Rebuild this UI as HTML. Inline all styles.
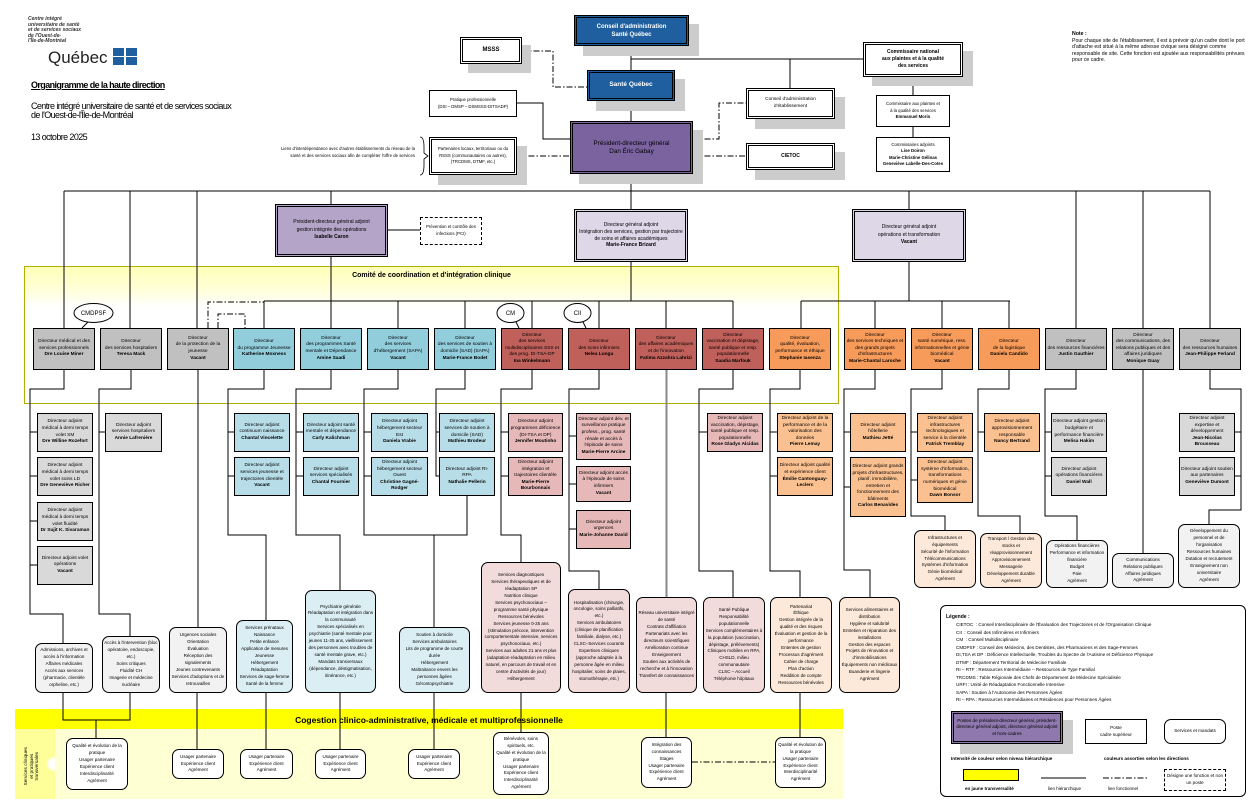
<!DOCTYPE html>
<html><head><meta charset="utf-8"><style>
*{margin:0;padding:0;box-sizing:border-box}
body{width:1254px;height:811px;background:#fff;position:relative;overflow:hidden;font-family:"Liberation Sans",sans-serif;color:#000}
.a{position:absolute}
.b{position:absolute;border:1px solid #000;display:flex;align-items:center;justify-content:center;text-align:center;font-size:4.8px;line-height:6.6px;z-index:3;padding:1px}
.r{border-radius:7px;border-width:1.2px}
.s{font-size:4.5px;line-height:6.9px}
.g1{background:#c0c0c0}.g2{background:#d9d9d9}.g3{background:#f2f2f2}
.u1{background:#92cddc}.u2{background:#b7dde8}.u3{background:#dbeef4}
.p1{background:#c0605a}.p2{background:#e6b9b8}.p3{background:#f2dcdb}
.o1{background:#f79b5b}.o2{background:#fac090}.o3{background:#fde9d9}
.dbl{border:3px double #000}
.sh{position:absolute;background:#ccc;z-index:2}
b{font-weight:bold}
svg{position:absolute;left:0;top:0;z-index:2}
</style></head><body>

<!-- header -->
<div class="a" style="left:28px;top:17px;font:italic bold 5px/5.5px 'Liberation Sans';color:#333">Centre intégré<br>universitaire de santé<br>et de services sociaux<br>de l'Ouest-de-<br>l'Île-de-Montréal</div>
<div class="a" style="left:48px;top:49px;font-size:17px;line-height:18px;color:#222">Québec</div>
<div class="a" style="left:113px;top:48px;width:24px;height:17px;display:grid;grid-template-columns:11px 11px;gap:1px 2px">
<div style="background:#1f5fa0"></div><div style="background:#1f5fa0"></div><div style="background:#1f5fa0"></div><div style="background:#1f5fa0"></div></div>
<div class="a" style="left:31px;top:80px;font-size:9px;font-weight:bold;text-decoration:underline;letter-spacing:-0.6px">Organigramme de la haute direction</div>
<div class="a" style="left:31px;top:102px;font-size:9px;line-height:9px;letter-spacing:-0.6px">Centre intégré universitaire de santé et de services sociaux<br>de l'Ouest-de-l'Île-de-Montréal</div>
<div class="a" style="left:31px;top:132px;font-size:9px;letter-spacing:-0.6px">13 octobre 2025</div>
<div class="a" style="left:280px;top:145px;width:135px;text-align:right;font-size:4.3px;line-height:7px">Liens d'interdépendance avec d'autres établissements du réseau de la santé et des services sociaux afin de compléter l'offre de services</div>
<div class="a" style="left:1072px;top:31px;width:175px;font-size:5.2px;line-height:6.6px"><b>Note :</b><br>Pour chaque site de l'établissement, il est à prévoir qu'un cadre dont le port d'attache est situé à la même adresse civique sera désigné comme responsable de site. Cette fonction est ajoutée aux responsabilités prévues pour ce cadre.</div>

<!-- bands -->
<div class="a" style="left:24px;top:266px;width:815px;height:138px;border:1px solid #b0b000;background:linear-gradient(#ffffb8 0,#ffffd8 22px,#fff 40px,#fff 100%);z-index:0"></div>
<div class="a" style="left:24px;top:272px;width:815px;text-align:center;font-size:7px;font-weight:bold;z-index:1">Comité de coordination et d'intégration clinique</div>
<div class="a" style="left:15px;top:709px;width:828px;height:20px;background:#ffff00;z-index:0"></div>
<div class="a" style="left:15px;top:729px;width:828px;height:70px;background:#ffffd4;z-index:0"></div>
<div class="a" style="left:15px;top:729px;width:40px;height:70px;background:radial-gradient(ellipse at 100% 50%,#fff 0,#fff 6px,#ffff9a 9px);z-index:0"></div>
<div class="a" style="left:15px;top:715px;width:828px;text-align:center;font-size:8.5px;font-weight:bold;z-index:1;padding-left:0">Cogestion clinico-administrative, médicale et multiprofessionnelle</div>
<div class="a" style="left:-8px;top:758px;width:80px;text-align:center;font-size:4.8px;line-height:5.5px;transform:rotate(-90deg);z-index:1">Services cliniques<br>et pratiques<br>transversales</div>

<svg width="1254" height="811" fill="none" stroke="#000" stroke-width="1">
<g>
<path d="M631 46V121M631 59H863M790 59V88M913 77V95M913 127V137M631 174V209"/>
<path d="M517 103H543V139H570"/>
<path d="M388 230H420"/>
<path d="M64 191H1210M64 191V328M130 191V328M197 191V328M331 191V204M909 191V209M1076 191V328M1143 191V328M1210 191V328"/>
<path d="M331 257V301M631 262V301M264 301H733M264 301V328M331 301V328M398 301V328M465 301V328M532 301V328M599 301V328M666 301V328M733 301V328"/>
<path d="M909 262V301M801 301H1010M801 301V328M875 301V328M942 301V328M1009 301V328"/>
<path d="M64 370V389H30V614H63V643M30 432H37M30 476H37M30 521H37M30 565H37"/>
<path d="M131 370V389H99V614H130V636M99 432H105"/>
<path d="M198 370V627"/>
<path d="M264 370V389H228V535H266V620M228 432H234M228 476H234"/>
<path d="M331 370V389H296V535H340V590M296 432H303M296 476H303"/>
<path d="M398 370V389H364V535H467V496M364 432H371M364 476H371M434 535V627"/>
<path d="M465 370V389H436V476H439M436 432H439"/>
<path d="M532 370V389H501V535H521V562M501 432H508M501 476H508"/>
<path d="M599 370V389H569V571H599V589M569 436H576M569 484H576M569 529H576"/>
<path d="M733 370V389H699V571H733V597M699 432H707"/>
<path d="M800 370V389H770V571H800V597M770 432H777M770 476H777"/>
<path d="M875 370V389H844V570H870V597M844 432H850M844 487H850"/>
<path d="M942 370V389H911V516H945V530M911 432H917M911 480H917"/>
<path d="M1009 370V389H978V516H1020V533M978 432H984"/>
<path d="M1076 370V389H1045V516H1077V540M1045 432H1051M1045 476H1051"/>
<path d="M1143 370V553"/>
<path d="M1210 370V389H1241V510H1209V524M1235 432H1241M1235 476H1241"/>
<path d="M666 370V597M667 370V597" stroke="#888"/>
<path d="M63 693V720H130V693M96 720V738M197 693V749M266 693V749M340 693V749M434 693V749M521 693V732M666 693V737M800 693V737"/>
<g stroke-dasharray="6,2,1.5,2">
<path d="M522 51H553V87H587"/>
<path d="M517 156H570"/>
<path d="M693 139H719V103H746"/>
<path d="M693 156H746"/>
<path d="M208 328V302H264"/>
<path d="M218 328V314H245V328"/>
<path d="M692 762H775"/>
<path d="M1103 778H1147"/>
</g>
<path d="M1041 778H1086"/>
<path d="M420 137Q424 137 424 147V153L428 156L424 159V165Q424 175 420 175" stroke-width="0.8"/>
<ellipse cx="93.5" cy="313" rx="19.5" ry="9.5" fill="#fff"/><path d="M88 322L82 328"/>
<ellipse cx="510.5" cy="313" rx="13.5" ry="9.5" fill="#fff"/><path d="M516 322L519 328"/>
<ellipse cx="577.5" cy="313" rx="13.5" ry="9.5" fill="#fff"/><path d="M583 322L586 328"/>
</g>
<text x="93.5" y="315" font-size="6" font-family="Liberation Sans" fill="#000" stroke="none" text-anchor="middle">CMDPSF</text>
<text x="510.5" y="315" font-size="6" font-family="Liberation Sans" fill="#000" stroke="none" text-anchor="middle">CM</text>
<text x="577.5" y="315" font-size="6" font-family="Liberation Sans" fill="#000" stroke="none" text-anchor="middle">CII</text>
</svg>

<!-- top boxes -->
<div class="sh" style="left:583px;top:24px;width:116px;height:32px"></div>
<div class="b dbl" style="left:574px;top:15px;width:115px;height:31px;background:#1f5fa0;color:#fff;font-size:6px;line-height:8px;font-weight:bold"><span>Conseil d'administration<br>Santé Québec</span></div>
<div class="sh" style="left:468px;top:45px;width:63px;height:28px"></div>
<div class="b dbl" style="left:460px;top:37px;width:62px;height:27px;background:#fff;font-size:6px;font-weight:bold">MSSS</div>
<div class="sh" style="left:596px;top:79px;width:89px;height:32px"></div>
<div class="b dbl" style="left:587px;top:70px;width:88px;height:31px;background:#1f5fa0;color:#fff;font-size:6.5px;font-weight:bold">Santé Québec</div>
<div class="b" style="left:429px;top:90px;width:88px;height:27px;background:#fff;font-size:4.3px"><span>Pratique professionnelle<br>(DSI – DMSP – DSMSSS-DITSADP)</span></div>
<div class="sh" style="left:438px;top:146px;width:89px;height:39px"></div>
<div class="b dbl" style="left:429px;top:137px;width:88px;height:38px;background:#fff;font-size:4.3px">Partenaires locaux, territoriaux ou du RSSS (communautaires ou autres), (TRCDMS, DTMF, etc.)</div>
<div class="sh" style="left:579px;top:130px;width:124px;height:54px"></div>
<div class="b dbl" style="left:570px;top:121px;width:123px;height:53px;background:#7b63a0;font-size:6.3px;line-height:8px"><span>Président-directeur général<br>Dan Éric Gabay</span></div>
<div class="sh" style="left:755px;top:97px;width:90px;height:32px"></div>
<div class="b dbl" style="left:746px;top:88px;width:89px;height:31px;background:#fff;font-size:4.8px"><span>Conseil d'administration<br>d'établissement</span></div>
<div class="sh" style="left:755px;top:152px;width:90px;height:28px"></div>
<div class="b dbl" style="left:746px;top:143px;width:89px;height:27px;background:#fff;font-size:5px;font-weight:bold">CIETOC</div>
<div class="sh" style="left:872px;top:51px;width:101px;height:35px"></div>
<div class="b dbl" style="left:863px;top:42px;width:100px;height:35px;background:#fff;font-size:5px;line-height:7px;font-weight:bold"><span>Commissaire national<br>aux plaintes et à la qualité<br>des services</span></div>
<div class="b" style="left:876px;top:95px;width:74px;height:32px;background:#fff;font-size:4.3px"><span>Commissaire aux plaintes et<br>à la qualité des services<br><b>Emmanuel Morin</b></span></div>
<div class="b" style="left:876px;top:137px;width:74px;height:35px;background:#fff;font-size:4.3px;line-height:6.5px"><span>Commissaires adjoints<br><b>Lise Doiron<br>Marie-Christine Gélinas<br>Geneviève Labelle-Des-Cotes</b></span></div>
<div class="b dbl" style="left:275px;top:204px;width:113px;height:53px;background:#b4a5c8;font-size:5px;line-height:7.5px"><span>Président-directeur général adjoint<br>gestion intégrée des opérations<br><b>Isabelle Caron</b></span></div>
<div class="b" style="left:420px;top:217px;width:62px;height:28px;background:#fff;border:1px dashed #000;font-size:4.3px">Prévention et contrôle des infections (PCI)</div>
<div class="b dbl" style="left:574px;top:209px;width:114px;height:53px;background:#ddd7e8;font-size:5px;line-height:6.8px"><span>Directeur général adjoint<br>Intégration des services, gestion par trajectoire de soins et affaires académiques<br><b>Marie-France Brizard</b></span></div>
<div class="b dbl" style="left:852px;top:209px;width:114px;height:53px;background:#ddd7e8;font-size:5px;line-height:7.5px"><span>Directeur général adjoint<br>opérations et transformation<br><b>Vacant</b></span></div>

<!-- directors -->
<div class="b g1" style="left:33px;top:328px;width:62px;height:42px"><span>Directeur médical et des services professionnels<br><b>Dre Louise Miner</b></span></div>
<div class="b g1" style="left:100px;top:328px;width:62px;height:42px"><span>Directeur<br>des services hospitaliers<br><b>Teresa Mack</b></span></div>
<div class="b g1" style="left:167px;top:328px;width:62px;height:42px"><span>Directeur<br>de la protection de la jeunesse<br><b>Vacant</b></span></div>
<div class="b u1" style="left:233px;top:328px;width:62px;height:42px"><span>Directeur<br>du programme Jeunesse<br><b>Katherine Moxness</b></span></div>
<div class="b u1" style="left:300px;top:328px;width:62px;height:42px"><span>Directeur<br>des programmes Santé mentale et Dépendance<br><b>Amine Saadi</b></span></div>
<div class="b u1" style="left:367px;top:328px;width:62px;height:42px"><span>Directeur<br>des services d'hébergement (SAPA)<br><b>Vacant</b></span></div>
<div class="b u1" style="left:434px;top:328px;width:62px;height:42px"><span>Directeur<br>des services de soutien à domicile (SAD) (SAPA)<br><b>Marie-France Bodet</b></span></div>
<div class="b p1" style="left:501px;top:328px;width:62px;height:42px"><span>Directeur<br>des services multidisciplinaires SSS et des prog. DI-TSA-DP<br><b>Ina Winkelmann</b></span></div>
<div class="b p1" style="left:568px;top:328px;width:62px;height:42px"><span>Directeur<br>des soins infirmiers<br><b>Nelea Lungu</b></span></div>
<div class="b p1" style="left:635px;top:328px;width:62px;height:42px"><span>Directeur<br>des affaires académiques et de l'innovation<br><b>Fatima Azzahra Lahrizi</b></span></div>
<div class="b p1" style="left:702px;top:328px;width:62px;height:42px"><span>Directeur<br>vaccination et dépistage, santé publique et resp. populationnelle<br><b>Saadia Marfouk</b></span></div>
<div class="b o1" style="left:769px;top:328px;width:62px;height:42px"><span>Directeur<br>qualité, évaluation, performance et éthique<br><b>Stephanie Iasenza</b></span></div>
<div class="b o1" style="left:844px;top:328px;width:62px;height:42px"><span>Directeur<br>des services techniques et des grands projets d'infrastructures<br><b>Marie-Chantal Laroche</b></span></div>
<div class="b o1" style="left:911px;top:328px;width:62px;height:42px"><span>Directeur<br>santé numérique, ress. informationnelles et génie biomédical<br><b>Vacant</b></span></div>
<div class="b o1" style="left:978px;top:328px;width:62px;height:42px"><span>Directeur<br>de la logistique<br><b>Daniela Candido</b></span></div>
<div class="b g1" style="left:1045px;top:328px;width:62px;height:42px"><span>Directeur<br>des ressources financières<br><b>Justin Gauthier</b></span></div>
<div class="b g1" style="left:1112px;top:328px;width:62px;height:42px"><span>Directeur<br>des communications, des relations publiques et des affaires juridiques<br><b>Monique Guay</b></span></div>
<div class="b g1" style="left:1179px;top:328px;width:62px;height:42px"><span>Directeur<br>des ressources humaines<br><b>Jean-Philippe Ferland</b></span></div>

<!-- adjoints -->
<div class="b g2" style="left:37px;top:413px;width:56px;height:39px"><span>Directeur adjoint médical à demi temps volet SM<br><b>Dre Willine Rozefort</b></span></div>
<div class="b g2" style="left:37px;top:457px;width:56px;height:39px"><span>Directeur adjoint médical à demi temps volet soins LD<br><b>Dre Geneviève Richer</b></span></div>
<div class="b g2" style="left:37px;top:502px;width:56px;height:39px"><span>Directeur adjoint médical à demi temps volet fluidité<br><b>Dr Sujit K. Sivaraman</b></span></div>
<div class="b g2" style="left:37px;top:546px;width:56px;height:39px"><span>Directeur adjoint volet opérations<br><b>Vacant</b></span></div>
<div class="b g2" style="left:105px;top:413px;width:57px;height:39px"><span>Directeur adjoint services hospitaliers<br><b>Annie Lafrenière</b></span></div>
<div class="b u2" style="left:234px;top:413px;width:56px;height:39px"><span>Directeur adjoint continuum naissance<br><b>Chantal Vincelette</b></span></div>
<div class="b u2" style="left:234px;top:457px;width:56px;height:39px"><span>Directeur adjoint services jeunesse et trajectoires clientèle<br><b>Vacant</b></span></div>
<div class="b u2" style="left:303px;top:413px;width:56px;height:39px"><span>Directeur adjoint santé mentale et dépendance<br><b>Carly Kalichman</b></span></div>
<div class="b u2" style="left:303px;top:457px;width:56px;height:39px"><span>Directeur adjoint services spécialisés<br><b>Chantal Fournier</b></span></div>
<div class="b u2" style="left:371px;top:413px;width:57px;height:39px"><span>Directeur adjoint hébergement secteur Est<br><b>Daniela Vrabie</b></span></div>
<div class="b u2" style="left:371px;top:457px;width:57px;height:39px"><span>Directeur adjoint hébergement secteur Ouest<br><b>Christine Gagné-Rodger</b></span></div>
<div class="b u2" style="left:439px;top:413px;width:56px;height:39px"><span>Directeur adjoint services de soutien à domicile (SAD)<br><b>Mathieu Brodeur</b></span></div>
<div class="b u2" style="left:439px;top:457px;width:56px;height:39px"><span>Directeur adjoint RI-RPA<br><b>Nathalie Pellerin</b></span></div>
<div class="b p2" style="left:508px;top:413px;width:55px;height:39px"><span>Directeur adjoint programmes déficience (DI-TSA et DP)<br><b>Jennifer Moutinho</b></span></div>
<div class="b p2" style="left:508px;top:457px;width:55px;height:39px"><span>Directeur adjoint intégration et trajectoires clientèle<br><b>Marie-Pierre Bourbonnais</b></span></div>
<div class="b p2" style="left:576px;top:413px;width:55px;height:47px"><span>Directeur adjoint dév. et surveillance pratique profess., prog. santé rénale et accès à l'épisode de soins<br><b>Marie-Pierre Arcine</b></span></div>
<div class="b p2" style="left:576px;top:466px;width:55px;height:36px"><span>Directeur adjoint accès à l'épisode de soins infirmiers<br><b>Vacant</b></span></div>
<div class="b p2" style="left:576px;top:510px;width:55px;height:39px"><span>Directeur adjoint urgences<br><b>Marie-Johanne David</b></span></div>
<div class="b p2" style="left:707px;top:413px;width:56px;height:39px"><span>Directeur adjoint vaccination, dépistage, santé publique et resp. populationnelle<br><b>Rose Gladys Alcidas</b></span></div>
<div class="b o2" style="left:777px;top:413px;width:56px;height:39px"><span>Directeur adjoint de la performance et de la valorisation des données<br><b>Pierre Lemay</b></span></div>
<div class="b o2" style="left:777px;top:457px;width:56px;height:39px"><span>Directeur adjoint qualité et expérience client<br><b>Émilie Cantonguay-Leclerc</b></span></div>
<div class="b o2" style="left:850px;top:413px;width:56px;height:39px"><span>Directeur adjoint hôtellerie<br><b>Mathieu Jetté</b></span></div>
<div class="b o2" style="left:850px;top:457px;width:56px;height:60px"><span>Directeur adjoint grands projets d'infrastructures, planif. immobilière, entretien et fonctionnement des bâtiments<br><b>Carlos Benavides</b></span></div>
<div class="b o2" style="left:917px;top:413px;width:56px;height:39px"><span>Directeur adjoint infrastructures technologiques et service à la clientèle<br><b>Patrick Tremblay</b></span></div>
<div class="b o2" style="left:917px;top:457px;width:56px;height:46px"><span>Directeur adjoint système d'information, transformations numériques et génie biomédical<br><b>Dawn Bonsor</b></span></div>
<div class="b o2" style="left:984px;top:413px;width:56px;height:39px"><span>Directeur adjoint approvisionnement responsable<br><b>Nancy Bertrand</b></span></div>
<div class="b g2" style="left:1051px;top:413px;width:56px;height:39px"><span>Directeur adjoint gestion budgétaire et performance financière<br><b>Melisa Hakim</b></span></div>
<div class="b g2" style="left:1051px;top:457px;width:56px;height:39px"><span>Directeur adjoint opérations financières<br><b>Daniel Wall</b></span></div>
<div class="b g2" style="left:1179px;top:413px;width:56px;height:39px"><span>Directeur adjoint expertise et développement<br><b>Jean-Nicolas Brousseau</b></span></div>
<div class="b g2" style="left:1179px;top:457px;width:56px;height:39px"><span>Directeur adjoint soutien aux partenaires<br><b>Geneviève Dumont</b></span></div>

<!-- services -->
<div class="b r s g3" style="left:35px;top:643px;width:58px;height:50px">Admissions, archives et accès à l'information<br>Affaires médicales<br>Accès aux services (pharmacie, clientèle orpheline, etc.)</div>
<div class="b r s g3" style="left:102px;top:636px;width:58px;height:57px">Accès à l'intervention (bloc opératoire, endoscopie, etc.)<br>Soins critiques<br>Fluidité CH<br>Imagerie et médecine nucléaire</div>
<div class="b r s g3" style="left:169px;top:627px;width:58px;height:66px">Urgences sociales<br>Orientation<br>Évaluation<br>Réception des signalements<br>Jeunes contrevenants<br>Services d'adoptions et de retrouvailles</div>
<div class="b r s u3" style="left:236px;top:620px;width:57px;height:73px">Services prénataux<br>Naissance<br>Petite enfance<br>Application de mesures<br>Jeunesse<br>Hébergement<br>Réadaptation<br>Services de sage-femme<br>Santé de la femme</div>
<div class="b r s u3" style="left:305px;top:590px;width:71px;height:103px">Psychiatrie générale<br>Réadaptation et intégration dans la communauté<br>Services spécialisés en psychiatrie (santé mentale pour jeunes 11-25 ans, vieillissement des personnes avec troubles de santé mentale grave, etc.)<br>Mandats transversaux (dépendance, déstigmatisation, itinérance, etc.)</div>
<div class="b r s u3" style="left:399px;top:627px;width:71px;height:66px">Soutien à domicile<br>Services ambulatoires<br>Lits de programme de courte durée<br>Hébergement<br>Maltraitance envers les personnes âgées<br>Gérontopsychiatrie</div>
<div class="b r s p3" style="left:481px;top:562px;width:80px;height:131px">Services diagnostiques<br>Services thérapeutiques et de réadaptation SP<br>Nutrition clinique<br>Services psychosociaux – programme santé physique<br>Ressources bénévoles<br>Services jeunesse 0-25 ans (stimulation précoce, intervention comportementale intensive, services psychosociaux, etc.)<br>Services aux adultes 21 ans et plus (adaptation-réadaptation en milieu naturel, en parcours de travail et en centre d'activités de jour)<br>Hébergement</div>
<div class="b r s p3" style="left:568px;top:589px;width:62px;height:104px">Hospitalisation (chirurgie, oncologie, soins palliatifs, etc.)<br>Services ambulatoires (clinique de planification familiale, dialyse, etc.)<br>CLSC–Services courants<br>Expertises cliniques (approche adaptée à la personne âgée en milieu hospitalier, soins de plaies, stomothérapie, etc.)</div>
<div class="b r s p3" style="left:636px;top:597px;width:61px;height:96px">Réseau universitaire intégré de santé<br>Contrats d'affiliation<br>Partenariats avec les directeurs scientifiques<br>Amélioration continue<br>Enseignement<br>Soutien aux activités de recherche et à l'innovation<br>Transfert de connaissances</div>
<div class="b r s p3" style="left:703px;top:597px;width:62px;height:96px">Santé Publique<br>Responsabilité populationnelle<br>Services complémentaires à la population (vaccination, dépistage, prélèvements)<br>Cliniques mobiles en RPA, CHSLD, milieu communautaire<br>CLSC – Accueil<br>Téléphonie hôpitaux</div>
<div class="b r s o3" style="left:770px;top:597px;width:62px;height:96px">Partenariat<br>Éthique<br>Gestion intégrée de la qualité et des risques<br>Évaluation et gestion de la performance<br>Ententes de gestion<br>Processus d'agrément<br>Cahier de charge<br>Plan d'action<br>Reddition de compte<br>Ressources bénévoles</div>
<div class="b r s o3" style="left:839px;top:597px;width:61px;height:96px">Services alimentaires et distribution<br>Hygiène et salubrité<br>Entretien et réparation des installations<br>Gestion des espaces<br>Projets de rénovation et d'immobilisations<br>Équipements non médicaux<br>Buanderie et lingerie<br>Agrément</div>
<div class="b r s o3" style="left:914px;top:530px;width:62px;height:58px">Infrastructures et équipements<br>Sécurité de l'information<br>Télécommunications<br>Systèmes d'information<br>Génie biomédical<br>Agrément</div>
<div class="b r s o3" style="left:980px;top:533px;width:62px;height:55px">Transport / Gestion des stocks et réapprovisionnement<br>Approvisionnement<br>Messagerie<br>Développement durable<br>Agrément</div>
<div class="b r s g3" style="left:1046px;top:540px;width:62px;height:48px">Opérations financières<br>Performance et information financière<br>Budget<br>Paie<br>Agrément</div>
<div class="b r s g3" style="left:1112px;top:553px;width:62px;height:35px">Communications<br>Relations publiques<br>Affaires juridiques<br>Agrément</div>
<div class="b r s g3" style="left:1178px;top:524px;width:62px;height:64px">Développement du personnel et de l'organisation<br>Ressources humaines<br>Dotation et recrutement<br>Enseignement non universitaire<br>Agrément</div>

<!-- bottom boxes -->
<div class="b r s" style="left:66px;top:738px;width:62px;height:52px;background:#fff">Qualité et évolution de la pratique<br>Usager partenaire<br>Expérience client<br>Interdisciplinarité<br>Agrément</div>
<div class="b r s" style="left:172px;top:749px;width:52px;height:30px;background:#fff">Usager partenaire<br>Expérience client<br>Agrément</div>
<div class="b r s" style="left:240px;top:749px;width:53px;height:30px;background:#fff">Usager partenaire<br>Expérience client<br>Agrément</div>
<div class="b r s" style="left:315px;top:749px;width:51px;height:30px;background:#fff">Usager partenaire<br>Expérience client<br>Agrément</div>
<div class="b r s" style="left:408px;top:749px;width:52px;height:30px;background:#fff">Usager partenaire<br>Expérience client<br>Agrément</div>
<div class="b r s" style="left:493px;top:732px;width:56px;height:63px;background:#fff">Bénévoles, soins spirituels, etc.<br>Qualité et évolution de la pratique<br>Usager partenaire<br>Expérience client<br>Interdisciplinarité<br>Agrément</div>
<div class="b r s" style="left:641px;top:737px;width:51px;height:51px;background:#fff">Intégration des connaissances<br>Stages<br>Usager partenaire<br>Expérience client<br>Agrément</div>
<div class="b r s" style="left:775px;top:737px;width:51px;height:51px;background:#fff">Qualité et évolution de la pratique<br>Usager partenaire<br>Expérience client<br>Interdisciplinarité<br>Agrément</div>

<!-- legend -->
<div class="a" style="left:940px;top:605px;width:306px;height:192px;border:1px solid #000;border-radius:6px;z-index:1"></div>
<div class="a" style="left:946px;top:614px;font-size:5px;font-weight:bold;z-index:3">Légende :</div>
<div class="a" style="left:956px;top:621px;font-size:4.6px;line-height:7.5px;z-index:3">CIETOC&nbsp; : Conseil Interdisciplinaire de l'Évaluation des Trajectoires et de l'Organisation Clinique<br>CII&nbsp; : Conseil des Infirmières et Infirmiers<br>CM&nbsp; : Conseil Multidisciplinaire<br>CMDPSF : Conseil des Médecins, des Dentistes, des Pharmaciens et des Sage-Femmes<br>DI,TSA et DP : Déficience Intellectuelle, Troubles du Spectre de l'Autisme et Déficience Physique<br>DTMF : Département Territorial de Médecine Familiale<br>RI – RTF : Ressources Intermédiaire – Ressources de Type Familial<br>TRCDMS : Table Régionale des Chefs de Département de Médecine Spécialisée<br>URFI : Unité de Réadaptation Fonctionnelle Intensive<br>SAPA : Soutien à l'Autonomie des Personnes Âgées<br>RI – RPA : Ressources Intermédiaires et Résidences pour Personnes Âgées</div>
<div class="sh" style="left:960px;top:720px;width:113px;height:34px"></div>
<div class="b dbl" style="left:951px;top:711px;width:112px;height:33px;background:#8e78ad;font-size:4.6px">Postes de président-directeur général, président-directeur général adjoint, directeur général adjoint et hors-cadres</div>
<div class="b" style="left:1085px;top:719px;width:62px;height:25px;background:#fff;font-size:4.6px"><span>Poste<br>cadre supérieur</span></div>
<div class="b r" style="left:1164px;top:719px;width:62px;height:25px;background:#fff;font-size:4.6px">Services et mandats</div>
<div class="a" style="left:951px;top:756px;font-size:4.6px;font-weight:bold;z-index:3">Intensité de couleur selon niveau hiérarchique</div>
<div class="a" style="left:1104px;top:756px;font-size:4.6px;font-weight:bold;z-index:3">couleurs assorties selon les directions</div>
<div class="a" style="left:963px;top:769px;width:56px;height:12px;background:#ffff00;border:1px solid #000;z-index:3"></div>
<div class="b" style="left:1164px;top:769px;width:62px;height:22px;background:#fff;border:1px dashed #000;font-size:4.5px">Désigne une fonction et non un poste</div>
<div class="a" style="left:965px;top:786px;font-size:4.5px;font-weight:bold;z-index:3">en jaune transversalité</div>
<div class="a" style="left:1048px;top:786px;font-size:4.5px;z-index:3">lien hiérarchique</div>
<div class="a" style="left:1108px;top:786px;font-size:4.5px;z-index:3">lien fonctionnel</div>
</body></html>
